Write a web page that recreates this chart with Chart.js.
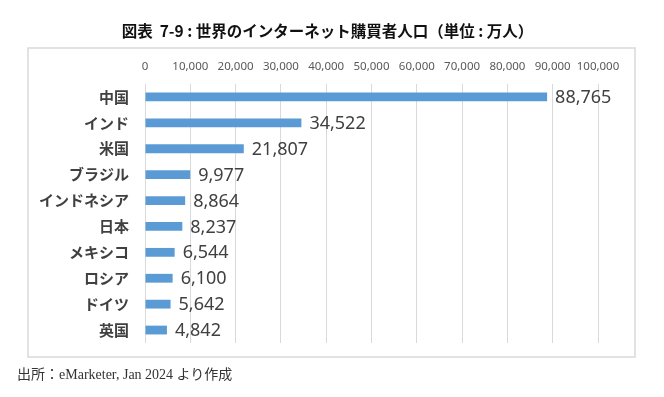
<!DOCTYPE html>
<html lang="ja">
<head>
<meta charset="utf-8">
<script src="https://cdn.jsdelivr.net/npm/chart.js@4.4.1/dist/chart.umd.min.js"></script>
<style>
  html, body { margin: 0; padding: 0; background: #fff; }
  body { width: 664px; height: 397px; position: relative; overflow: hidden; }
  #title { position: absolute; left: 0; width: 655px; top: 20px; text-align: center;
           font-family: "Noto Sans CJK JP", sans-serif; font-weight: bold; font-size: 15.5px; color: #111; line-height: 20px; white-space: pre; }
  #footer { position: absolute; left: 17px; top: 366px; font-family: "Liberation Serif", "Noto Sans CJK JP", serif;
            font-size: 14px; color: #333; line-height: 18px; }
  #c { position: absolute; left: 0; top: 0; }
</style>
</head>
<body>
<canvas id="c" width="664" height="397"></canvas>
<div id="title">図表  7-9 : 世界のインターネット購買者人口（単位 : 万人）</div>
<div id="footer">出所：eMarketer, Jan 2024 より作成</div>
<script>
const categories = ["中国", "インド", "米国", "ブラジル", "インドネシア", "日本", "メキシコ", "ロシア", "ドイツ", "英国"];
const values = [88765, 34522, 21807, 9977, 8864, 8237, 6544, 6100, 5642, 4842];
const tickValues = [0, 10000, 20000, 30000, 40000, 50000, 60000, 70000, 80000, 90000, 100000];
const tickLabels = ["0", "10,000", "20,000", "30,000", "40,000", "50,000", "60,000", "70,000", "80,000", "90,000", "100,000"];

const boxPlugin = {
  id: 'box',
  beforeDraw(chart) {
    const ctx = chart.ctx;
    ctx.save();
    ctx.strokeStyle = '#D9D9D9';
    ctx.lineWidth = 1.5;
    ctx.strokeRect(28, 48, 607, 309);
    ctx.restore();
  }
};

const labelPlugin = {
  id: 'barLabels',
  afterDatasetsDraw(chart) {
    const ctx = chart.ctx;
    const meta = chart.getDatasetMeta(0);
    ctx.save();
    ctx.font = '18px "Noto Sans", sans-serif';
    ctx.fillStyle = '#404040';
    ctx.textAlign = 'left';
    ctx.textBaseline = 'middle';
    meta.data.forEach((bar, i) => {
      ctx.fillText(values[i].toLocaleString('en-US'), bar.x + 8, bar.y + 1);
    });
    ctx.restore();
  }
};

new Chart(document.getElementById('c'), {
  type: 'bar',
  data: {
    labels: categories,
    datasets: [{
      data: values,
      backgroundColor: '#5B9BD5',
      borderWidth: 0,
      categoryPercentage: 1.0,
      barPercentage: 0.34
    }]
  },
  options: {
    indexAxis: 'y',
    responsive: false,
    animation: false,
    events: [],
    layout: { padding: { left: 0, top: 0, right: 66, bottom: 54 } },
    plugins: { legend: { display: false }, tooltip: { enabled: false }, title: { display: false } },
    scales: {
      x: {
        position: 'top',
        min: 0, max: 100000,
        afterBuildTicks(scale) { scale.ticks = tickValues.map(v => ({ value: v })); },
        afterFit(scale) { scale.height = 84; },
        ticks: {
          callback: (v, i) => tickLabels[i],
          color: '#595959',
          font: { family: '"Noto Sans", sans-serif', size: 11.5 },
          padding: 10,
          maxRotation: 0,
          autoSkip: false
        },
        grid: { color: '#D9D9D9', lineWidth: 1, drawTicks: false },
        border: { display: false }
      },
      y: {
        afterFit(scale) { scale.width = 145; },
        ticks: {
          color: '#404040',
          font: { family: '"Noto Sans CJK JP", sans-serif', size: 15, weight: 'bold' },
          padding: 16,
          autoSkip: false
        },
        grid: { display: false, drawTicks: false },
        border: { display: false }
      }
    }
  },
  plugins: [boxPlugin, labelPlugin]
});
</script>
</body>
</html>
